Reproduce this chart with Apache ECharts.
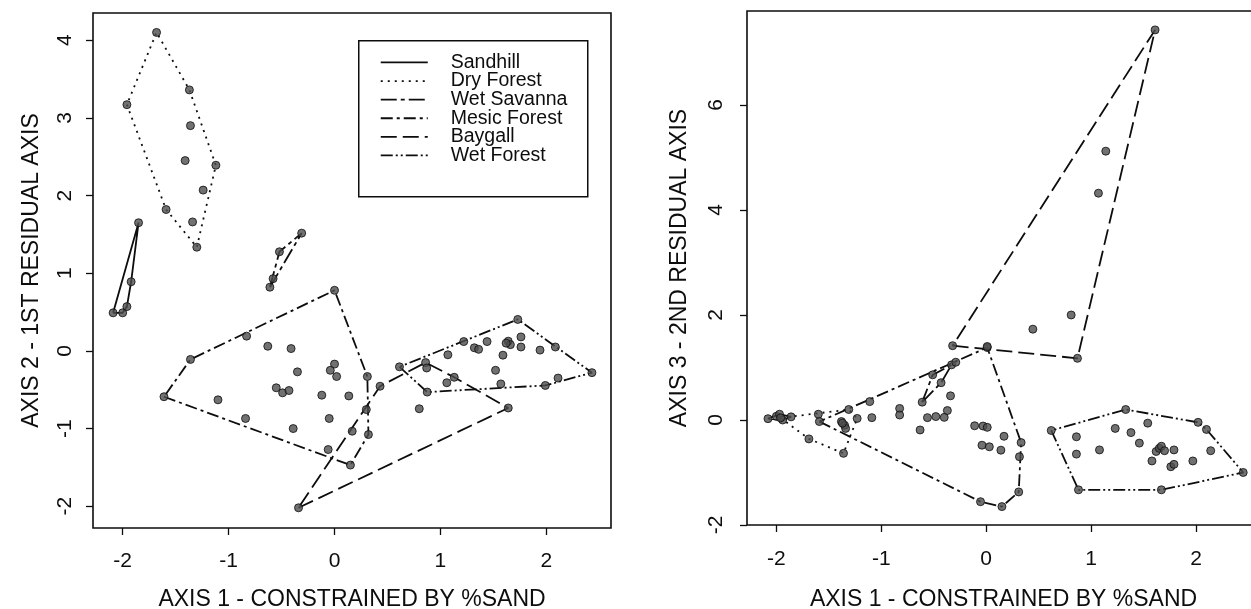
<!DOCTYPE html>
<html>
<head>
<meta charset="utf-8">
<script src="https://cdn.jsdelivr.net/npm/echarts@6/dist/echarts.min.js"></script>
<style>
  html, body { margin: 0; padding: 0; background: #fff; }
  #chart { width: 1251px; height: 609px; }
</style>
</head>
<body>
<div id="chart"></div>
<script>
// groups and their hull line dash
const groupNames = ['Sandhill', 'Dry Forest', 'Wet Savanna', 'Mesic Forest', 'Baygall', 'Wet Forest']
const groupDash = ['solid', [2, 5], [16, 4, 4, 4], [12, 4, 3, 4], [16, 6], [12, 3, 2, 3, 2, 3]]

// tick labels
const xTicks = [-2, -1, 0, 1, 2]
const y1Ticks = [-2, -1, 0, 1, 2, 3, 4]
const y2Ticks = [-2, 0, 2, 4, 6]

// left panel: axis 1 vs axis 2
const l_sandhillX = [-2.09, -2.0, -1.96, -1.92, -1.85]
const l_sandhillY = [0.49, 0.49, 0.57, 0.89, 1.65]
const l_dryX = [-1.68, -1.96, -1.37, -1.36, -1.41, -1.12, -1.24, -1.59, -1.34, -1.30]
const l_dryY = [4.10, 3.17, 3.36, 2.90, 2.45, 2.39, 2.07, 1.82, 1.66, 1.335]
const l_savX = [-0.61, -0.58, -0.52, -0.31]
const l_savY = [0.82, 0.93, 1.276, 1.516]
const l_mesicX = [-1.61, -1.36, -0.83, 0.0, 0.31, 0.32, 0.15, -0.06, -0.63, -0.41, -0.35, -0.55, -0.49, -0.43, -1.10, -0.84, -0.39, -0.12, -0.05, 0.0, -0.04, 0.02, 0.135]
const l_mesicY = [-0.59, -0.11, 0.19, 0.78, -0.33, -1.077, -1.47, -1.27, 0.06, 0.03, -0.27, -0.475, -0.54, -0.51, -0.63, -0.87, -1.00, -0.57, -0.87, -0.17, -0.25, -0.33, -0.58]
const l_baygallX = [-0.34, 0.167, 0.30, 0.43, 0.86, 0.87, 1.64, 1.13, 1.06, 0.80]
const l_baygallY = [-2.02, -1.034, -0.755, -0.455, -0.15, -0.22, -0.735, -0.34, -0.41, -0.745]
const l_wetX = [0.613, 1.22, 1.73, 2.085, 2.43, 2.11, 1.99, 1.57, 0.875, 1.07, 1.32, 1.36, 1.44, 1.64, 1.66, 1.62, 1.76, 1.76, 1.94, 1.59, 1.52]
const l_wetY = [-0.205, 0.12, 0.405, 0.05, -0.28, -0.35, -0.445, -0.425, -0.53, -0.05, 0.04, 0.02, 0.12, 0.125, 0.08, 0.10, 0.18, 0.05, 0.01, -0.055, -0.25]

// right panel: axis 1 vs axis 3
const r_sandhillX = [-2.08, -2.0, -1.97, -1.94, -1.86]
const r_sandhillY = [0.025, 0.07, 0.11, 0.0, 0.06]
const r_dryX = [-1.96, -1.69, -1.60, -1.38, -1.36, -1.35, -1.34, -1.31, -1.23]
const r_dryY = [0.04, -0.36, 0.11, -0.03, -0.635, -0.10, -0.16, 0.20, 0.03]
const r_savX = [-0.61, -0.51, -0.43, -0.33]
const r_savY = [0.34, 0.86, 0.71, 1.05]
const r_mesicX = [-1.59, -1.37, -1.11, -1.09, -0.825, -0.825, -0.63, -0.56, -0.48, -0.40, -0.37, -0.34, -0.29, 0.01, -0.11, -0.03, 0.01, 0.17, -0.04, 0.03, 0.14, 0.333, 0.317, 0.31, 0.15, -0.054]
const r_mesicY = [-0.03, -0.06, 0.35, 0.045, 0.22, 0.095, -0.19, 0.045, 0.065, 0.05, 0.18, 0.46, 1.10, 1.38, -0.11, -0.115, -0.14, -0.31, -0.48, -0.51, -0.575, -0.43, -0.70, -1.37, -1.65, -1.556]
const r_baygallX = [-0.32, 0.01, 0.87, 1.61, 1.14, 1.07, 0.81, 0.445]
const r_baygallY = [1.415, 1.40, 1.175, 7.43, 5.12, 4.32, 2.0, 1.73]
const r_wetX = [0.62, 1.33, 2.02, 2.10, 2.45, 1.67, 0.88, 0.86, 0.86, 1.08, 1.23, 1.38, 1.54, 1.46, 1.62, 1.65, 1.67, 1.70, 1.79, 1.58, 1.76, 1.79, 1.97, 2.14]
const r_wetY = [-0.20, 0.20, -0.045, -0.18, -1.0, -1.33, -1.33, -0.32, -0.65, -0.57, -0.16, -0.24, -0.06, -0.44, -0.60, -0.54, -0.50, -0.585, -0.57, -0.78, -0.89, -0.845, -0.78, -0.585]

const leftGroups = [[l_sandhillX, l_sandhillY], [l_dryX, l_dryY], [l_savX, l_savY], [l_mesicX, l_mesicY], [l_baygallX, l_baygallY], [l_wetX, l_wetY]]
const rightGroups = [[r_sandhillX, r_sandhillY], [r_dryX, r_dryY], [r_savX, r_savY], [r_mesicX, r_mesicY], [r_baygallX, r_baygallY], [r_wetX, r_wetY]]

const ink = '#0d0d0d'
const font = "'Liberation Sans', Arial, Helvetica, sans-serif"

// convex hull (monotone chain), returned closed
function hull(xs, ys) {
  const pts = xs.map((x, i) => [x, ys[i]]).sort((a, b) => a[0] - b[0] || a[1] - b[1])
  const cross = (o, a, b) => (a[0] - o[0]) * (b[1] - o[1]) - (a[1] - o[1]) * (b[0] - o[0])
  const lower = []
  for (const p of pts) {
    while (lower.length >= 2 && cross(lower[lower.length - 2], lower[lower.length - 1], p) <= 0) lower.pop()
    lower.push(p)
  }
  const upper = []
  for (let i = pts.length - 1; i >= 0; i--) {
    const p = pts[i]
    while (upper.length >= 2 && cross(upper[upper.length - 2], upper[upper.length - 1], p) <= 0) upper.pop()
    upper.push(p)
  }
  const h = lower.slice(0, -1).concat(upper.slice(0, -1))
  h.push(h[0])
  return h
}

function panelSeries(groups, idx) {
  const out = []
  groups.forEach((g, i) => {
    out.push({
      name: groupNames[i],
      type: 'line',
      xAxisIndex: idx,
      yAxisIndex: idx,
      data: hull(g[0], g[1]),
      symbol: 'none',
      silent: true,
      lineStyle: { color: ink, width: 1.8, type: groupDash[i] },
      z: 2
    })
  })
  groups.forEach((g, i) => {
    out.push({
      type: 'scatter',
      xAxisIndex: idx,
      yAxisIndex: idx,
      data: g[0].map((x, k) => [x, g[1][k]]),
      symbol: 'circle',
      symbolSize: 8,
      itemStyle: { color: '#4d4d4d', borderColor: ink, borderWidth: 1 },
      z: 3
    })
  })
  return out
}

function xAxis(gridIndex, labelMargin, nameGap) {
  return {
    type: 'value',
    gridIndex,
    min: -2.28,
    max: 2.61,
    name: 'AXIS 1 - CONSTRAINED BY %SAND',
    nameLocation: 'middle',
    nameGap,
    nameTextStyle: { fontSize: 23, color: ink, fontFamily: font },
    axisLine: { show: false, onZero: false },
    axisTick: { show: true, inside: false, length: 7, customValues: xTicks, lineStyle: { color: ink, width: 1.3 } },
    axisLabel: { customValues: xTicks, margin: labelMargin, fontSize: 21, color: ink, fontFamily: font },
    splitLine: { show: false }
  }
}

function yAxis(gridIndex, min, max, ticks, name, labelMargin, nameGap) {
  return {
    type: 'value',
    gridIndex,
    min,
    max,
    name,
    nameLocation: 'middle',
    nameRotate: 90,
    nameGap,
    nameTextStyle: { fontSize: 23, color: ink, fontFamily: font },
    axisLine: { show: false, onZero: false },
    axisTick: { show: true, inside: false, length: 7, customValues: ticks, lineStyle: { color: ink, width: 1.3 } },
    axisLabel: { customValues: ticks, rotate: 90, margin: labelMargin, fontSize: 21, color: ink, fontFamily: font },
    splitLine: { show: false }
  }
}

// legend box drawn by hand (R style)
const legendChildren = [{
  type: 'rect',
  shape: { x: 0, y: 0, width: 229, height: 156 },
  style: { fill: '#fff', stroke: ink, lineWidth: 1.5 }
}]
groupNames.forEach((n, i) => {
  const y = 21.7 + i * 18.6
  legendChildren.push({
    type: 'line',
    shape: { x1: 22, y1: y, x2: 69, y2: y },
    style: { stroke: ink, lineWidth: 1.8, lineDash: groupDash[i] === 'solid' ? null : groupDash[i] }
  })
  legendChildren.push({
    type: 'text',
    x: 92,
    y,
    style: { text: n, fill: ink, fontSize: 19.5, fontFamily: font, verticalAlign: 'middle', align: 'left' }
  })
})

const chart = echarts.init(document.getElementById('chart'), null, { renderer: 'canvas' })
chart.setOption({
  animation: false,
  backgroundColor: '#fff',
  grid: [
    { left: 93, top: 13, width: 518, height: 515, outerBoundsMode: 'none', containLabel: false, show: true, borderColor: ink, borderWidth: 1.6, backgroundColor: 'transparent' },
    { left: 747, top: 11, width: 513, height: 514, outerBoundsMode: 'none', containLabel: false, show: true, borderColor: ink, borderWidth: 1.6, backgroundColor: 'transparent' }
  ],
  xAxis: [xAxis(0, 23, 60), xAxis(1, 24, 63)],
  yAxis: [
    yAxis(0, -2.28, 4.35, y1Ticks, 'AXIS 2 - 1ST RESIDUAL AXIS', 17, 50),
    yAxis(1, -2.0, 7.79, y2Ticks, 'AXIS 3 - 2ND RESIDUAL AXIS', 20, 56)
  ],
  graphic: [{ type: 'group', left: 358, top: 40, z: 10, children: legendChildren }],
  series: panelSeries(leftGroups, 0).concat(panelSeries(rightGroups, 1))
})
</script>
</body>
</html>
